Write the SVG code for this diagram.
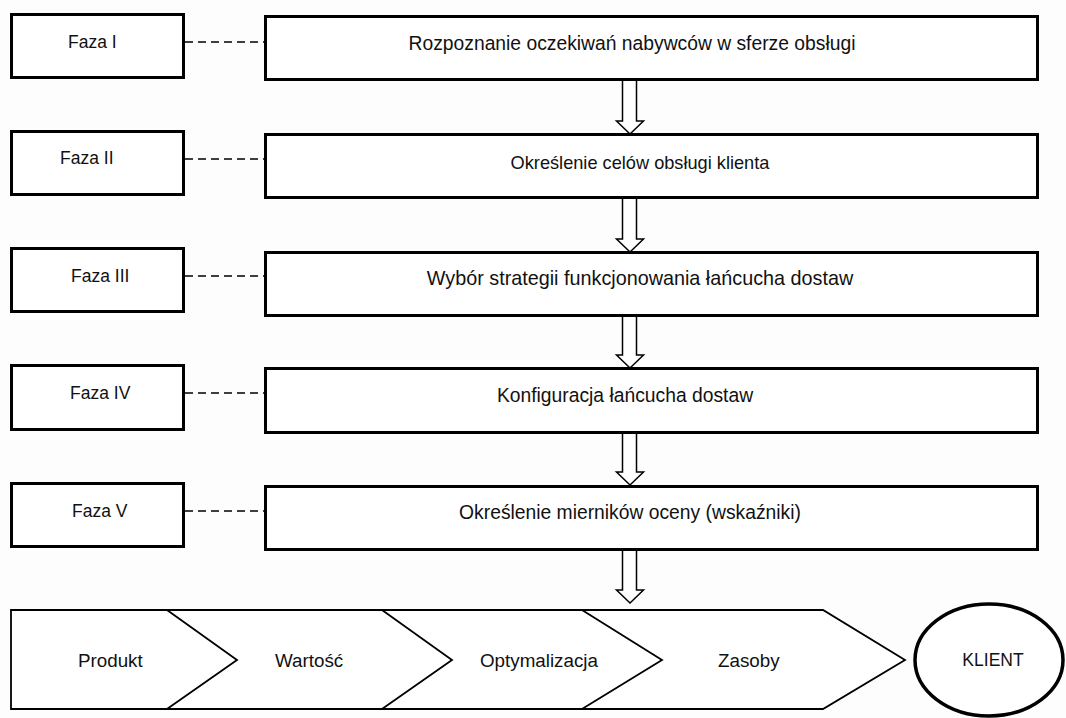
<svg xmlns="http://www.w3.org/2000/svg" width="1066" height="718" viewBox="0 0 1066 718">
  <defs>
    <style>
      .phase { fill: #fff; stroke: #000; stroke-width: 3; }
      .step { fill: #fff; stroke: #000; stroke-width: 3; }
      .dash { stroke: #000; stroke-width: 1.6; stroke-dasharray: 8 5; fill: none; }
      .flow { fill: #fff; stroke: #000; stroke-width: 1.5; stroke-linejoin: miter; }
      .chain { fill: #fff; stroke: #000; stroke-width: 1.8; stroke-linejoin: miter; }
      .client { fill: #fff; stroke: #000; stroke-width: 3.5; }
      text { font-family: "Liberation Sans", Arial, sans-serif; font-size: 17.5px; fill: #111; dominant-baseline: central; }
      .st { font-size: 19.3px; }
      .lbl { font-size: 18.8px; }
      .c { text-anchor: middle; }
    </style>
  </defs>
  <rect width="1066" height="718" fill="#fdfdfd"/>

  <!-- dashed links between phase labels and steps, and hollow flow arrows -->
  <g id="connectors">
    <line class="dash" x1="185" y1="42" x2="265" y2="42"/>
    <line class="dash" x1="185" y1="159" x2="265" y2="159"/>
    <line class="dash" x1="185" y1="276" x2="265" y2="276"/>
    <line class="dash" x1="185" y1="393" x2="265" y2="393"/>
    <line class="dash" x1="185" y1="511" x2="265" y2="511"/>
    <path class="flow" d="M622.5,81 V121 H616.5 L630,134 L643.5,121 H636.5 V81"/>
    <path class="flow" d="M622.5,199 V239 H616.5 L630,252 L643.5,239 H636.5 V199"/>
    <path class="flow" d="M622.5,317 V355 H616.5 L630,368 L643.5,355 H636.5 V317"/>
    <path class="flow" d="M622.5,434 V472 H616.5 L630,485 L643.5,472 H636.5 V434"/>
    <path class="flow" d="M622.5,551 V590 H616.5 L630,603 L643.5,590 H636.5 V551"/>
  </g>

  <g id="faza-1"><rect class="phase" x="11.5" y="14.5" width="172" height="63"/><text x="68" y="42">Faza I</text></g>
  <g id="faza-2"><rect class="phase" x="11.5" y="131.5" width="172" height="63"/><text x="60" y="158">Faza II</text></g>
  <g id="faza-3"><rect class="phase" x="11.5" y="248.5" width="172" height="63"/><text x="71" y="276">Faza III</text></g>
  <g id="faza-4"><rect class="phase" x="11.5" y="365.5" width="172" height="64"/><text x="70" y="393">Faza IV</text></g>
  <g id="faza-5"><rect class="phase" x="11.5" y="483.5" width="172" height="63"/><text x="72" y="511">Faza V</text></g>

  <g id="step-1"><rect class="step" x="265.5" y="16.5" width="772" height="63"/><text class="c st" x="632" y="43">Rozpoznanie oczekiwań nabywców w sferze obsługi</text></g>
  <g id="step-2"><rect class="step" x="265.5" y="134.5" width="772" height="63"/><text class="c st" x="640" y="163" style="font-size:18.2px">Określenie celów obsługi klienta</text></g>
  <g id="step-3"><rect class="step" x="265.5" y="252.5" width="772" height="63"/><text class="c st" x="640" y="278" style="font-size:19.8px">Wybór strategii funkcjonowania łańcucha dostaw</text></g>
  <g id="step-4"><rect class="step" x="265.5" y="368.5" width="772" height="64"/><text class="c st" x="625" y="395">Konfiguracja łańcucha dostaw</text></g>
  <g id="step-5"><rect class="step" x="265.5" y="486.5" width="772" height="63"/><text class="c st" x="630" y="512">Określenie mierników oceny (wskaźniki)</text></g>

  <!-- value chain band -->
  <g id="value-chain">
    <path class="chain" d="M11,610 H823 L905,660 L823,709 H11 Z"/>
    <polyline class="chain" fill="none" points="167,610 237,660 167,709"/>
    <polyline class="chain" fill="none" points="382,610 452,660 382,709"/>
    <polyline class="chain" fill="none" points="582,610 662,660 582,709"/>
  </g>
  <g id="produkt"><text class="lbl" x="78" y="660">Produkt</text></g>
  <g id="wartosc"><text class="lbl" x="275" y="660">Wartość</text></g>
  <g id="optymalizacja"><text class="lbl" x="480" y="660">Optymalizacja</text></g>
  <g id="zasoby"><text class="lbl" x="718" y="660">Zasoby</text></g>

  <g id="klient">
    <ellipse class="client" cx="989" cy="660" rx="74" ry="56"/>
    <text class="c" x="993" y="660">KLIENT</text>
  </g>
</svg>
